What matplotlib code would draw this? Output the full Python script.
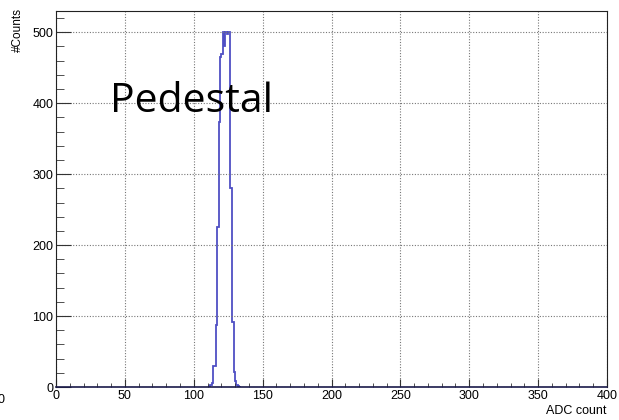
import matplotlib

matplotlib.use("Agg")
import matplotlib.pyplot as plt
import numpy as np
from matplotlib.ticker import MultipleLocator

# pedestal histogram, 1 ADC count per bin
bin_edges = list(range(110, 135))
counts = [0, 1, 3, 6, 30, 30, 87, 225, 373, 465, 470, 500,
          480, 500, 497, 500, 280, 280, 92, 21, 8, 3, 1, 0]

plt.rcParams["font.family"] = ["Liberation Sans", "DejaVu Sans"]

fig = plt.figure(figsize=(6.19, 4.2), dpi=100)
ax = fig.add_axes([56 / 619, 33 / 420, 551 / 619, 376 / 420])

ax.stairs(counts, bin_edges, color="#4f4fc4", lw=1.3)

ax.set_xlim(0, 400)
ax.set_ylim(0, 530)
ax.xaxis.set_major_locator(MultipleLocator(50))
ax.xaxis.set_minor_locator(MultipleLocator(10))
ax.yaxis.set_major_locator(MultipleLocator(100))
ax.yaxis.set_minor_locator(MultipleLocator(20))
ax.grid(True, which="major", ls=(0, (1, 1.5)), color="#777777", lw=0.8)
ax.tick_params(which="both", direction="in", labelsize=9, color="#333333",
               top=False, right=False)
ax.tick_params(axis="y", which="major", length=11, pad=2)
ax.tick_params(axis="y", which="minor", length=6)
ax.tick_params(axis="x", which="major", length=6, pad=2)
ax.tick_params(axis="x", which="minor", length=3)
for side in ("top", "right", "left"):
    ax.spines[side].set_linewidth(0.8)
    ax.spines[side].set_color("#222222")
ax.spines["bottom"].set_color("#1a1a4a")
ax.spines["bottom"].set_linewidth(1.2)

ax.text(0.098, 0.731, "Pedestal", transform=ax.transAxes, fontsize=29.5,
        family=["Open Sans", "DejaVu Sans"], va="baseline")

fig.text(607 / 619, 3 / 420, "ADC count", ha="right", va="bottom", fontsize=9)
fig.text(18 / 619, 1 - 8 / 420, "#Counts", ha="center", va="top",
         rotation=90, fontsize=8.5)
fig.text(4 / 619, 1 - 400 / 420, "0", ha="right", va="center", fontsize=9)

fig.savefig("out.png", dpi=100)
